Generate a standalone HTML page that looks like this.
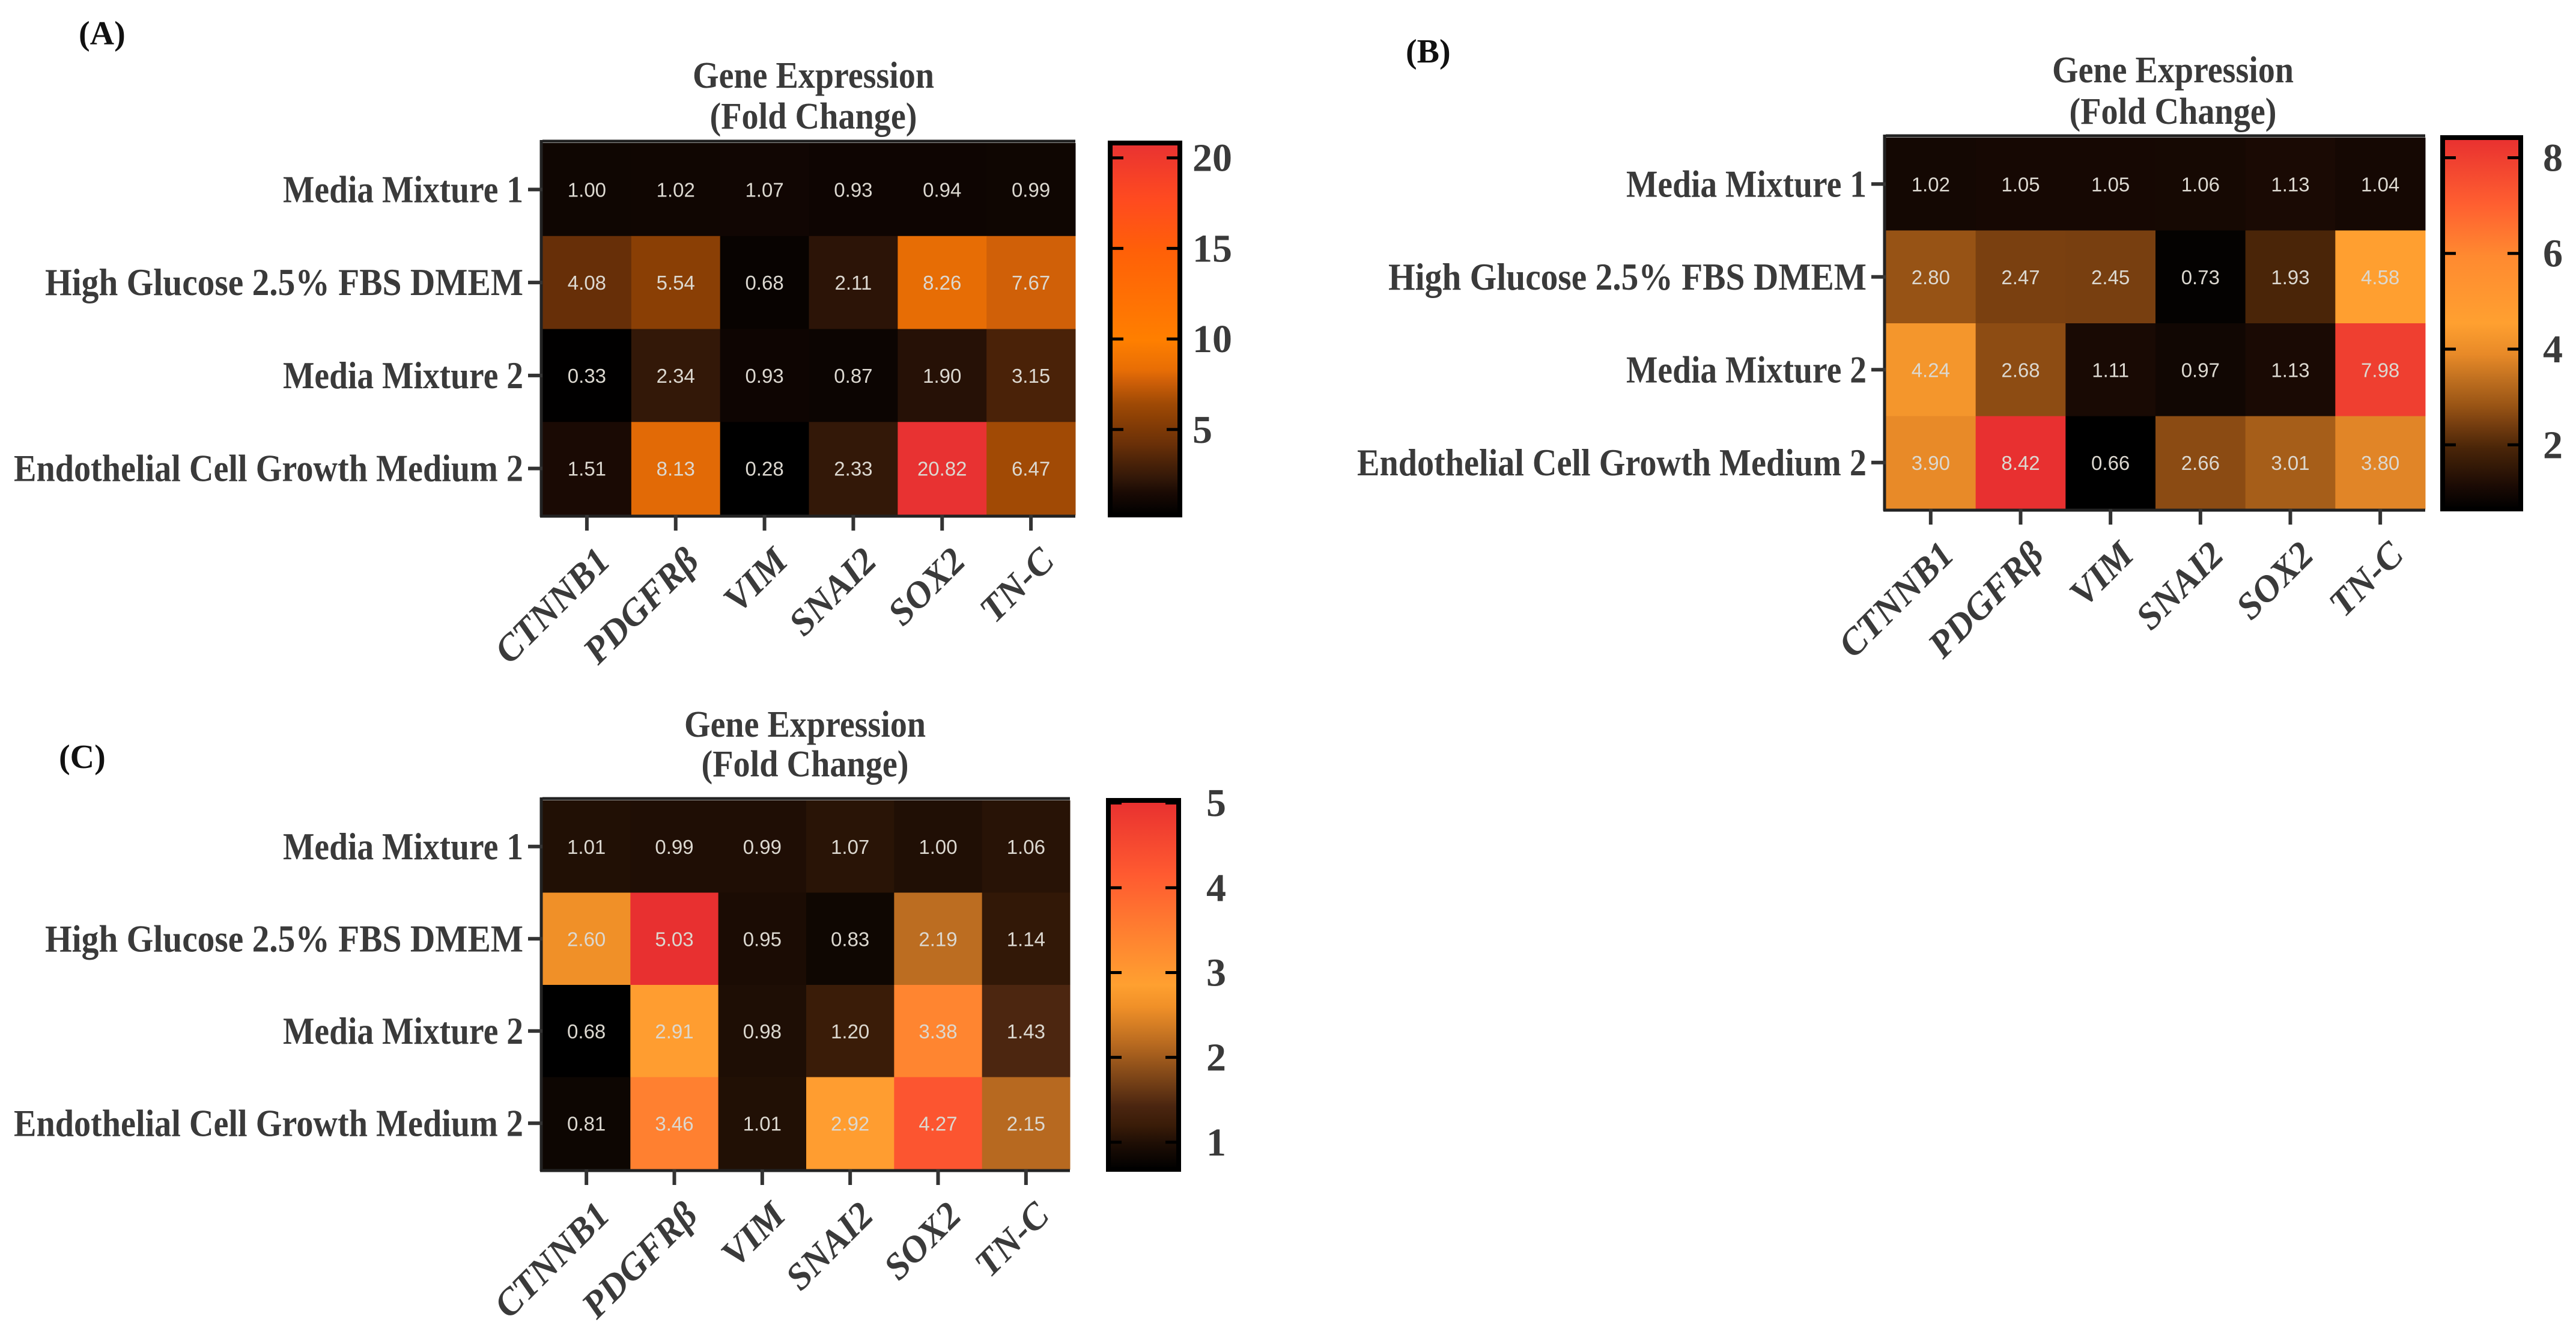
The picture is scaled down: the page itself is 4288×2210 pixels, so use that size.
<!DOCTYPE html>
<html><head><meta charset="utf-8">
<style>
html,body{margin:0;padding:0;background:#fff;}
svg{display:block;}
.lab{font-family:"Liberation Serif",serif;font-weight:bold;fill:#3a3a3a;}
.num{font-family:"Liberation Sans",sans-serif;fill:#dcd8d0;}
</style></head>
<body>
<svg id="fig" width="4288" height="2210" viewBox="0 0 4288 2210" xmlns="http://www.w3.org/2000/svg">
<defs id="defs"></defs>
</svg>
<script>
// ---- shared categories ----
const rowNames = ["Media Mixture 1","High Glucose 2.5% FBS DMEM","Media Mixture 2","Endothelial Cell Growth Medium 2"];
const colNames = ["CTNNB1","PDGFR\u03b2","VIM","SNAI2","SOX2","TN-C"];
// ---- panel A values ----
const valuesA = [[1.00,1.02,1.07,0.93,0.94,0.99],[4.08,5.54,0.68,2.11,8.26,7.67],[0.33,2.34,0.93,0.87,1.90,3.15],[1.51,8.13,0.28,2.33,20.82,6.47]];
const ticksA = [5,10,15,20];
// ---- panel B values ----
const valuesB = [[1.02,1.05,1.05,1.06,1.13,1.04],[2.80,2.47,2.45,0.73,1.93,4.58],[4.24,2.68,1.11,0.97,1.13,7.98],[3.90,8.42,0.66,2.66,3.01,3.80]];
const ticksB = [2,4,6,8];
// ---- panel C values ----
const valuesC = [[1.01,0.99,0.99,1.07,1.00,1.06],[2.60,5.03,0.95,0.83,2.19,1.14],[0.68,2.91,0.98,1.20,3.38,1.43],[0.81,3.46,1.01,2.92,4.27,2.15]];
const ticksC = [1,2,3,4,5];

const NS="http://www.w3.org/2000/svg";
const svg=document.getElementById('fig');
const defs=document.getElementById('defs');
function mk(tag,attrs,parent){const e=document.createElementNS(NS,tag);for(const k in attrs)e.setAttribute(k,attrs[k]);(parent||svg).appendChild(e);return e;}
function hex(c){return [parseInt(c.slice(1,3),16),parseInt(c.slice(3,5),16),parseInt(c.slice(5,7),16)];}
function cmap(stops,t){t=Math.max(0,Math.min(1,t));for(let i=1;i<stops.length;i++){if(t<=stops[i][0]){const a=stops[i-1],b=stops[i];const f=(t-a[0])/(b[0]-a[0]||1);const A=hex(a[1]),B=hex(b[1]);return 'rgb('+A.map((v,k)=>Math.round(v+(B[k]-v)*f)).join(',')+')';}}return stops[stops.length-1][1];}

const stopsA=[[0,"#000000"],[0.06,"#1a0a04"],[0.1,"#331808"],[0.14,"#4a2208"],[0.19,"#6a3008"],[0.26,"#8c4005"],[0.3,"#a04a05"],[0.36,"#d06008"],[0.39,"#e86e05"],[0.47,"#ff7f00"],[0.71,"#ff6008"],[0.85,"#ff4a20"],[1,"#e83232"]];
const stopsB=[[0,"#000000"],[0.06,"#1a0a04"],[0.164,"#4a2508"],[0.233,"#7a4010"],[0.28,"#9a5515"],[0.35,"#c07020"],[0.417,"#e88a28"],[0.5,"#ffa030"],[0.68,"#ff8a30"],[0.82,"#ff5f30"],[1,"#e83030"]];
const stopsC=[[0,"#000000"],[0.07,"#1e0e05"],[0.12,"#3a1c08"],[0.17,"#4a2510"],[0.34,"#b86a20"],[0.44,"#f09028"],[0.5,"#ffa030"],[0.62,"#ff8530"],[0.8,"#ff5a30"],[1,"#e83030"]];

const panels=[
 {id:"a",label:"(A)",lx:131,ly:74,x0:903,y0:238,w:887,h:619,cbx:1848,cbw:116,tlx:1985,tcx:1354,t1:146,t2:214,vals:valuesA,ticks:ticksA,stops:stopsA},
 {id:"b",label:"(B)",lx:2340,ly:104,x0:3139,y0:229,w:898,h:618,cbx:4066,cbw:130,tlx:4233,tcx:3617,t1:137,t2:206,vals:valuesB,ticks:ticksB,stops:stopsB},
 {id:"c",label:"(C)",lx:98,ly:1278,x0:903,y0:1332,w:878,h:614,cbx:1845,cbw:117,tlx:2008,tcx:1340,t1:1226,t2:1292,vals:valuesC,ticks:ticksC,stops:stopsC}
];
const rowLabelW=[400,796,400,848];

panels.forEach(p=>{
  const g=mk('g',{});
  
  
  const flat=p.vals.flat();
  const vmin=Math.min(...flat), vmax=Math.max(...flat);
  const tnorm=v=>(v-vmin)/(vmax-vmin);
  const cw=p.w/colNames.length, rh=p.h/rowNames.length;
  const xS=j=>p.x0+j*cw, yS=i=>p.y0+i*rh;
  const pl=mk('text',{x:p.lx,y:p.ly,class:'lab','font-size':56},g);
  pl.textContent=p.label;
  pl.setAttribute('style','fill:#111');
  
  
  const t1=mk('text',{x:p.tcx,y:p.t1,class:'lab','font-size':62,'text-anchor':'middle',textLength:402,lengthAdjust:'spacingAndGlyphs'},g);
  t1.textContent='Gene Expression';
  
  
  const t2=mk('text',{x:p.tcx,y:p.t2,class:'lab','font-size':62,'text-anchor':'middle',textLength:345,lengthAdjust:'spacingAndGlyphs'},g);
  t2.textContent='(Fold Change)';
  
  
  p.vals.forEach((row,i)=>row.forEach((v,j)=>{
    const r=mk('rect',{x:xS(j),y:yS(i),width:cw+0.5,height:rh+0.5,fill:cmap(p.stops,tnorm(v))},g);
    
    
    const t=mk('text',{x:xS(j)+cw/2,y:yS(i)+rh/2+12,class:'num','font-size':33,'text-anchor':'middle'},g);
    t.textContent=v.toFixed(2);
    
    
  }));
  mk('line',{x1:p.x0,y1:p.y0-3,x2:p.w+p.x0,y2:p.y0-3,stroke:'#222','stroke-width':5},g);
  mk('line',{x1:p.x0-2,y1:p.y0-5,x2:p.x0-2,y2:p.y0+p.h+3,stroke:'#222','stroke-width':5},g);
  mk('line',{x1:p.x0-4,y1:p.y0+p.h+2,x2:p.x0+p.w,y2:p.y0+p.h+2,stroke:'#222','stroke-width':5},g);
  rowNames.forEach((n,i)=>{
    const cy=yS(i)+rh/2;
    mk('line',{x1:p.x0-24,y1:cy,x2:p.x0,y2:cy,stroke:'#333','stroke-width':6},g);
    const t=mk('text',{x:p.x0-32,y:cy+21,class:'lab','font-size':64,'text-anchor':'end',textLength:rowLabelW[i],lengthAdjust:'spacingAndGlyphs'},g);
    t.textContent=n;
    
    
  });
  colNames.forEach((n,j)=>{
    const cx=xS(j)+cw/2;
    mk('line',{x1:cx,y1:p.y0+p.h,x2:cx,y2:p.y0+p.h+26,stroke:'#333','stroke-width':6},g);
    const ax=cx+42, ay=p.y0+p.h+80;
    const t=mk('text',{x:ax,y:ay,class:'lab','font-size':62,'font-style':'italic','text-anchor':'end',transform:'rotate(-45 '+ax+' '+ay+')'},g);
    t.textContent=n;
    
    
  });
  const gid='grad'+p.id;
  const lg=mk('linearGradient',{id:gid,x1:0,y1:1,x2:0,y2:0},defs);
  p.stops.forEach(s=>mk('stop',{offset:s[0],'stop-color':s[1]},lg));
  const cbTop=p.y0, cbH=p.h;
  const cb=mk('rect',{x:p.cbx,y:cbTop,width:p.cbw,height:cbH,fill:'url(#'+gid+')',stroke:'#000','stroke-width':8},g);
  
  
  const cy=v=>cbTop+cbH-(v-vmin)/(vmax-vmin)*cbH;
  p.ticks.forEach(tv=>{
    const y=cy(tv);
    mk('line',{x1:p.cbx,y1:y,x2:p.cbx+22,y2:y,stroke:'#000','stroke-width':5},g);
    mk('line',{x1:p.cbx+p.cbw-22,y1:y,x2:p.cbx+p.cbw,y2:y,stroke:'#000','stroke-width':5},g);
    const t=mk('text',{x:p.tlx,y:y+22,class:'lab','font-size':66},g);
    t.textContent=String(tv);
    
    
  });
});
</script>
</body></html>
